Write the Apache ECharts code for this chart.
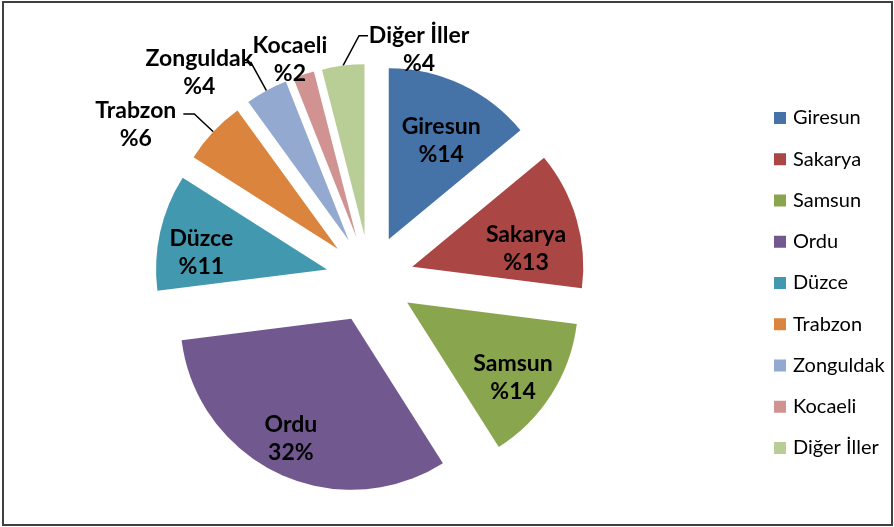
<!DOCTYPE html>
<html>
<head>
<meta charset="utf-8">
<title>İllere göre dağılım</title>
<script src="https://cdn.jsdelivr.net/npm/echarts@6/dist/echarts.min.js"></script>
<style>
  html, body { margin: 0; padding: 0; background: #fff; }
  #chart { width: 894px; height: 527px; }
</style>
</head>
<body>
<div id="chart"></div>
<script>
// data
const cities = ['Giresun', 'Sakarya', 'Samsun', 'Ordu', 'Düzce', 'Trabzon', 'Zonguldak', 'Kocaeli', 'Diğer İller'];
const shares = [14, 13, 14, 32, 11, 6, 4, 2, 4];
const colors = ['#4572A7', '#AA4643', '#89A54E', '#71588F', '#4198AF', '#DB843D', '#93A9CF', '#D19392', '#B9CD96'];
// which slices carry their label inside
const labelInside = [true, true, true, true, true, false, false, false, false];
// small label nudges (px) from where echarts puts them by default
const labelNudge = [[-2, 17], [-9, 18], [-2, 7], [-6, 4], [-1, 11], [-2, 11], [13, 10], [48, 14], [145, 14]];

const FONT = 'Lato, "DejaVu Sans", sans-serif';
const CENTER = [370, 279];
const R = 171;
const EXPLODE = 44;

const chart = echarts.init(document.getElementById('chart'));

const fmt = (name) => name === 'Ordu' ? '{b}\n{c}%' : '{b}\n%{c}';

// leader line lengths for the outside labels
const lineLen = {
  'Trabzon': [26, 11],
  'Zonguldak': [32, 6],
  'Kocaeli': [30, 10],
  'Diğer İller': [30, 10]
};

const sliceData = cities.map((name, i) => {
  const item = {
    name: name,
    value: shares[i],
    selected: true,
    itemStyle: { color: colors[i] },
    label: { show: !labelInside[i], formatter: fmt(name) },
    labelLine: { show: !labelInside[i] && name !== 'Kocaeli' }
  };
  if (lineLen[name]) {
    item.labelLine.length = lineLen[name][0];
    item.labelLine.length2 = lineLen[name][1];
  }
  return item;
});

const labelData = cities.map((name, i) => ({
  name: name,
  value: shares[i],
  selected: true,
  label: { show: labelInside[i], formatter: fmt(name) }
}));

const textStyle = {
  color: '#000',
  fontFamily: FONT,
  fontWeight: 'bold',
  fontSize: 23,
  lineHeight: 28
};

const nudgeInside = (params) => {
  const n = labelNudge[params.dataIndex];
  return { dx: n[0], dy: n[1], hideOverlap: false, moveOverlap: false };
};

// outside labels: centre the two lines, and for "Diğer İller" bend the
// leader line to the right like the original
const nudgeOutside = (params) => {
  const n = labelNudge[params.dataIndex];
  const w = params.labelRect.width;
  const out = { dx: n[0] - w / 2, dy: n[1], align: 'center', hideOverlap: false, moveOverlap: false };
  const pts = params.labelLinePoints;
  if (cities[params.dataIndex] === 'Diğer İller' && pts && pts.length) {
    const a = pts[0];
    out.labelLinePoints = [[a[0], a[1]], [a[0] + 16, a[1] - 30], [a[0] + 25, a[1] - 30]];
  }
  return out;
};

chart.setOption({
  animation: false,
  graphic: [{
    type: 'rect',
    shape: { x: 3, y: 2, width: 889, height: 523 },
    style: { fill: 'none', stroke: '#404040', lineWidth: 2 },
    silent: true
  }],
  legend: {
    orient: 'vertical',
    left: 769,
    top: 103,
    data: cities,
    icon: 'rect',
    itemWidth: 12,
    itemHeight: 12,
    itemGap: 21.25,
    textStyle: { fontFamily: FONT, fontSize: 20, color: '#000', padding: [0, 0, 0, 2] },
    selectedMode: false
  },
  series: [
    {
      name: 'dilimler',
      type: 'pie',
      center: CENTER,
      radius: R,
      startAngle: 90,
      clockwise: true,
      selectedMode: 'multiple',
      selectedOffset: EXPLODE,
      avoidLabelOverlap: false,
      emphasis: { disabled: true },
      label: Object.assign({ position: 'outside' }, textStyle),
      labelLine: { length: 30, length2: 10, lineStyle: { color: '#000', width: 1.5 } },
      labelLayout: nudgeOutside,
      data: sliceData
    },
    {
      name: 'etiketler',
      type: 'pie',
      center: CENTER,
      radius: [R * 0.46, R],
      startAngle: 90,
      clockwise: true,
      selectedMode: 'multiple',
      selectedOffset: EXPLODE,
      silent: true,
      legendHoverLink: false,
      emphasis: { disabled: true },
      itemStyle: { color: 'rgba(0,0,0,0)' },
      label: Object.assign({ position: 'inside' }, textStyle),
      labelLine: { show: false },
      labelLayout: nudgeInside,
      data: labelData
    }
  ]
});
</script>
</body>
</html>
